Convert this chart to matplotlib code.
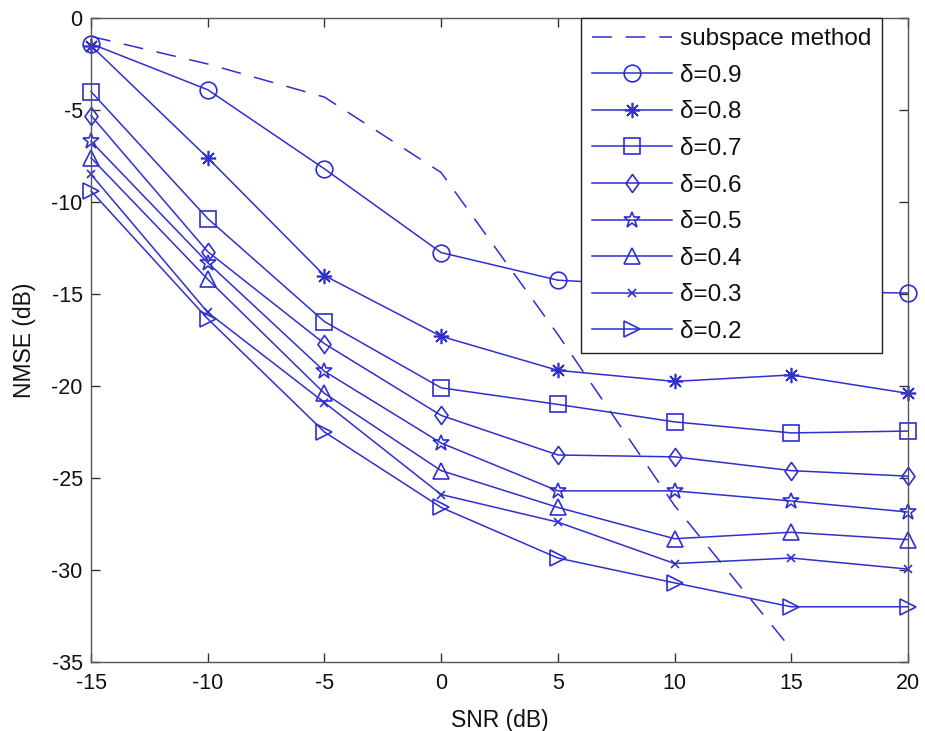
import matplotlib
matplotlib.use("Agg")
import matplotlib.pyplot as plt
from matplotlib.path import Path

plt.rcParams['font.family'] = ['Liberation Sans', 'DejaVu Sans']
plt.rcParams['axes.unicode_minus'] = False

snr = [-15, -10, -5, 0, 5, 10, 15, 20]
snr_sub = [-15, -10, -5, 0, 5, 10, 15]
subspace = [-1.0, -2.5, -4.3, -8.4, -17.2, -26.5, -34.3]

d09 = [-1.4, -3.9, -8.2, -12.75, -14.25, -14.6, -14.85, -14.95]
d08 = [-1.5, -7.6, -14.0, -17.3, -19.15, -19.75, -19.4, -20.4]
d07 = [-4.0, -10.9, -16.5, -20.1, -21.0, -21.95, -22.55, -22.45]
d06 = [-5.3, -12.7, -17.7, -21.6, -23.75, -23.85, -24.6, -24.9]
d05 = [-6.7, -13.3, -19.2, -23.1, -25.7, -25.7, -26.25, -26.85]
d04 = [-7.6, -14.2, -20.4, -24.6, -26.6, -28.3, -27.95, -28.35]
d03 = [-8.5, -16.0, -20.9, -25.9, -27.4, -29.65, -29.35, -29.95]
d02 = [-9.4, -16.35, -22.5, -26.6, -29.35, -30.7, -32.0, -32.0]

labels = ['subspace method', 'δ=0.9', 'δ=0.8', 'δ=0.7', 'δ=0.6',
          'δ=0.5', 'δ=0.4', 'δ=0.3', 'δ=0.2']
xticks = [-15, -10, -5, 0, 5, 10, 15, 20]
yticks = [0, -5, -10, -15, -20, -25, -30, -35]

blue = '#2f2fd0'
asterisk = (8, 2, 0)
diamond = Path([(0, 1), (0.72, 0), (0, -1), (-0.72, 0), (0, 1)],
               [Path.MOVETO, Path.LINETO, Path.LINETO, Path.LINETO, Path.CLOSEPOLY])

fig = plt.figure(figsize=(9.25, 7.31), dpi=100)
ax = fig.add_axes([0.0984, 0.0944, 0.8832, 0.8810])

ax.plot(snr_sub, subspace, color=blue, lw=1.1, dashes=(13, 9),
        label=labels[0], clip_on=False)

series = [d09, d08, d07, d06, d05, d04, d03, d02]
markers = ['o', asterisk, 's', diamond, '*', '^', 'x', '>']
msizes = [12, 11, 11, 13, 12, 12, 6, 12]
for vals, m, ms, lab in zip(series, markers, msizes, labels[1:]):
    ax.plot(snr, vals, color=blue, lw=1.1, marker=m, ms=ms,
            mfc='none', mec=blue, mew=1.2, label=lab, clip_on=False)

ax.set_xlim(-15, 20)
ax.set_ylim(-35, 0)
ax.set_xticks(xticks)
ax.set_yticks(yticks)
ax.tick_params(direction='in', top=True, right=True, length=6.5, width=1,
               labelsize=15.5, colors='#333333', labelcolor='#111111')
ax.tick_params(axis='x', pad=8)
ax.tick_params(axis='y', pad=6)
for s in ax.spines.values():
    s.set_color('#555555')
    s.set_linewidth(1)

ax.set_xlabel('SNR (dB)', fontsize=16.5, labelpad=11, color='#111111')
ax.set_ylabel('NMSE (dB)', fontsize=16.5, labelpad=11, color='#111111')

leg = ax.legend(loc='upper right', bbox_to_anchor=(0.968, 1.0),
                borderaxespad=0, fontsize=17.5, handlelength=3.3,
                handletextpad=0.35, labelspacing=0.6, fancybox=False,
                framealpha=1, edgecolor='#222222', borderpad=0.42)
leg.get_frame().set_linewidth(1)
for t in leg.get_texts():
    t.set_color('#111111')

fig.savefig('out.png', dpi=100)
